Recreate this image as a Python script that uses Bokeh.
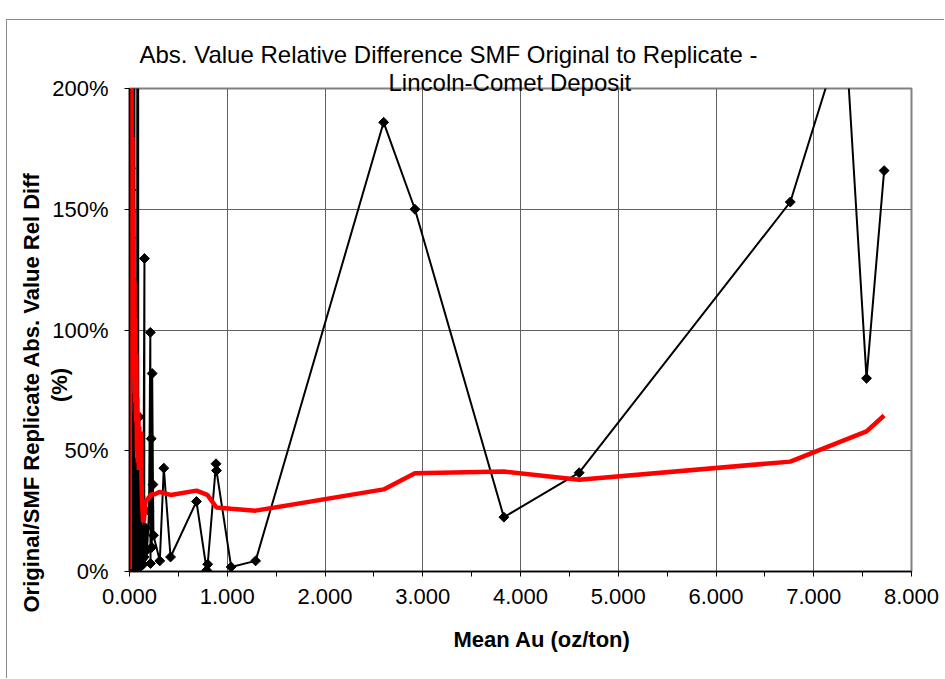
import numpy as np
from bokeh.plotting import figure
from bokeh.models import FixedTicker, NumeralTickFormatter, Range1d, Title
from bokeh.embed import file_html
from bokeh.resources import INLINE

# ---------------- data ----------------
title_line1 = "Abs. Value Relative Difference SMF Original to Replicate -"
title_line2 = "Lincoln-Comet Deposit"
x_title = "Mean Au (oz/ton)"
y_title1 = "Original/SMF Replicate Abs. Value Rel Diff"
y_title2 = "(%)"

x_ticks = [0, 1, 2, 3, 4, 5, 6, 7, 8]
x_minor = [0.5, 1.5, 2.5, 3.5, 4.5, 5.5, 6.5, 7.5]
y_ticks = [0, 50, 100, 150, 200]
y_tick_labels = ["0%", "50%", "100%", "150%", "200%"]

# black series (data order): mean Au (oz/ton) and abs. value relative difference (%)
mean_au = [0.003, 0.006, 0.010, 0.011, 0.012, 0.013, 0.013, 0.014, 0.014, 0.015,
           0.015, 0.016, 0.016, 0.017, 0.017, 0.018, 0.018, 0.019, 0.019, 0.020,
           0.020, 0.021, 0.021, 0.022, 0.022, 0.023, 0.023, 0.024, 0.024, 0.025,
           0.025, 0.026, 0.026, 0.027, 0.027, 0.028, 0.028, 0.029, 0.029, 0.030,
           0.032, 0.034, 0.036, 0.038, 0.040, 0.042, 0.044, 0.046, 0.048, 0.050,
           0.052, 0.054, 0.056, 0.058, 0.060, 0.062, 0.064, 0.066, 0.068, 0.070,
           0.072, 0.074, 0.076, 0.078, 0.080, 0.082, 0.084, 0.086, 0.088, 0.090,
           0.092, 0.094, 0.096, 0.098, 0.100, 0.103, 0.106, 0.109, 0.112, 0.115,
           0.118, 0.122, 0.126, 0.130, 0.135, 0.140, 0.153, 0.150, 0.165, 0.180,
           0.200, 0.213, 0.215, 0.222, 0.228, 0.232, 0.240, 0.245, 0.310, 0.351,
           0.420, 0.685, 0.790, 0.800, 0.885, 0.890, 1.040, 1.290, 2.600, 2.920,
           3.830, 4.600, 6.760, 7.320, 7.540, 7.720]
rel_diff = [0.0, 12, 167, 4, 158, 9, 149, 2, 138, 18,
            121, 6, 102, 25, 85, 3, 72, 14, 64, 30,
            58, 8, 51, 22, 46, 1, 41, 16, 37, 5,
            33, 11, 29, 2, 26, 7, 23, 12, 19, 4,
            28, 3, 35, 6, 42, 320, 10, 38, 2, 280,
            20, 44, 5, 33, 1, 40, 9, 27, 2, 45,
            12, 30, 4, 38, 290, 7, 25, 1, 260, 14,
            36, 3, 22, 8, 64, 11, 31, 2, 18, 6,
            24, 3, 14, 5, 17, 3, 129.6, 6, 18, 9,
            25, 99, 3.3, 55, 10, 82, 36, 15, 4.4, 42.8,
            6.0, 29.0, 0.5, 3.0, 44.6, 41.8, 1.9, 4.4, 186, 150,
            22.5, 40.9, 153, 226, 80, 166]

# red series: moving-average trend of the relative difference
ma_au = [0.002, 0.006, 0.010, 0.013, 0.016, 0.020, 0.025, 0.030, 0.035, 0.040,
         0.045, 0.050, 0.055, 0.060, 0.065, 0.070, 0.075, 0.080, 0.085, 0.090,
         0.095, 0.100, 0.108, 0.115, 0.122, 0.128, 0.138, 0.147, 0.165, 0.225,
         0.260, 0.310, 0.351, 0.420, 0.685, 0.790, 0.800, 0.885, 0.890, 1.040,
         1.290, 2.600, 2.920, 3.830, 4.600, 6.760, 7.320, 7.540, 7.720]
ma_diff = [1, 240, 160, 260, 140, 210, 115, 180, 95, 150,
           80, 120, 70, 105, 62, 90, 50, 72, 45, 66,
           42, 60, 44, 58, 40, 30, 20.5, 21, 29, 32,
           32, 33, 32.5, 31.7, 33.5, 31.8, 31.5, 26.8, 26.5, 26,
           25.2, 34, 40.7, 41.4, 38, 45.5, 54.5, 58, 64.6]

FONT = "Liberation Sans"

# the chart-area border sits at x=6, y=19 of the page
p = figure(width=938, height=659, output_backend="svg", toolbar_location=None,
           x_range=Range1d(0, 8), y_range=Range1d(0, 200),
           min_border_left=122, min_border_right=34, min_border_top=68,
           min_border_bottom=108, background_fill_color="white",
           border_fill_color="white")
p.margin = (19, 0, 0, 6)
p.styles = {"border-left": "1px solid #8a8a8a", "border-top": "1px solid #8a8a8a"}

p.outline_line_color = "#808080"
p.outline_line_width = 2

p.xaxis.ticker = FixedTicker(ticks=x_ticks, minor_ticks=x_minor)
p.yaxis.ticker = FixedTicker(ticks=y_ticks)
p.xaxis.formatter = NumeralTickFormatter(format="0.000")
p.yaxis.major_label_overrides = {t: l for t, l in zip(y_ticks, y_tick_labels)}

for ax in (p.xaxis, p.yaxis):
    ax.axis_line_color = "black"
    ax.axis_line_width = 1.5
    ax.major_tick_line_color = "black"
    ax.major_tick_in = 0
    ax.major_tick_out = 5
    ax.major_label_text_font = FONT
    ax.major_label_text_font_size = "22px"
    ax.major_label_text_color = "black"
p.xaxis.minor_tick_line_color = "black"
p.xaxis.minor_tick_in = 0
p.xaxis.minor_tick_out = 5
p.yaxis.minor_tick_line_color = None
p.xaxis.major_label_standoff = 12
p.yaxis.major_label_standoff = 16

# "(%)" as the y-axis label (trailing no-break spaces move it below the centre)
p.yaxis.axis_label = y_title2 + "\u00a0" * 18
p.yaxis.axis_label_text_font = FONT
p.yaxis.axis_label_text_font_size = "22px"
p.yaxis.axis_label_text_font_style = "bold"
p.yaxis.axis_label_text_color = "black"
p.yaxis.axis_label_standoff = -23

p.xgrid.ticker = FixedTicker(ticks=x_ticks)
p.ygrid.ticker = FixedTicker(ticks=y_ticks)
p.grid.grid_line_color = "#606060"
p.grid.grid_line_width = 1

p.line(mean_au, rel_diff, line_color="black", line_width=2)
p.scatter(mean_au, rel_diff, marker="square", angle=np.pi / 4, size=7,
          fill_color="black", line_color="black")
p.line(ma_au, ma_diff, line_color="#ff0000", line_width=4.5)

# titles
p.add_layout(Title(text=title_line2, align="left", offset=259, standoff=-15,
                   text_font=FONT, text_font_size="24px", text_font_style="normal",
                   text_color="black"), "above")
p.add_layout(Title(text=title_line1, align="left", offset=10, standoff=13,
                   text_font=FONT, text_font_size="24px", text_font_style="normal",
                   text_color="black"), "above")
p.add_layout(Title(text=x_title, align="left", offset=324, standoff=36,
                   text_font=FONT, text_font_size="22px", text_font_style="bold",
                   text_color="black"), "below")
p.add_layout(Title(text=y_title1, align="left", offset=-41, standoff=1,
                   text_font=FONT, text_font_size="22px", text_font_style="bold",
                   text_color="black"), "left")

open("out.html", "w").write(file_html(p, INLINE))
